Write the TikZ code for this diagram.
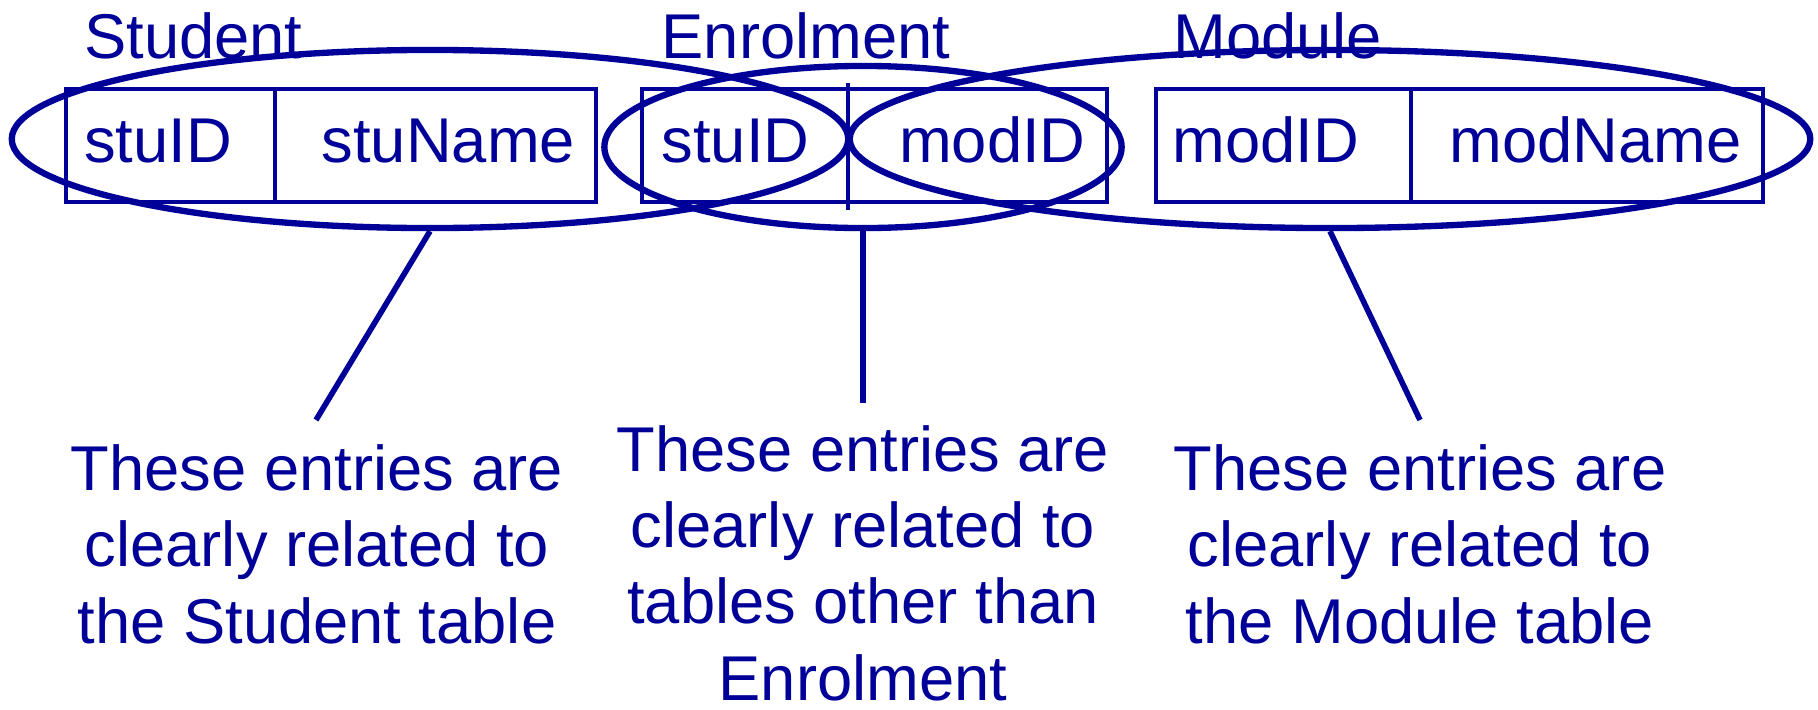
\documentclass[tikz,border=0pt]{standalone}
\usepackage{fontspec}
\setmainfont{Liberation Sans}
\usetikzlibrary{shapes.geometric}
\definecolor{navy}{RGB}{0,0,153}

\begin{document}
\begin{tikzpicture}[x=0.01cm,y=-0.01cm]
  \tikzstyle{ring}=[ellipse,draw=navy,line width=1.8pt,inner sep=0pt]
  \tikzstyle{field}=[anchor=base west,inner sep=0pt,text=navy,font=\fontsize{18}{21.7}\selectfont]
  \tikzstyle{note}=[anchor=base,align=center,inner sep=0pt,text=navy,font=\fontsize{18}{21.7}\selectfont]
  \tikzstyle{link}=[draw=navy,line width=1.6pt]
  \useasboundingbox (0,0) rectangle (1818,709);
  % tables
  \draw[navy,line width=0.9pt] (66,89) rectangle (596,202) (275,89) -- (275,202);
  \draw[navy,line width=0.9pt] (642,89) rectangle (1107,202) (848,83) -- (848,210);
  \draw[navy,line width=0.9pt] (1156,89) rectangle (1763,202) (1411,89) -- (1411,202);
  \node[field] (stuTitle) at (83.5,58) {Student};
  \node[field] (enrTitle) at (661,58) {Enrolment};
  \node[field] (modTitle) at (1173,58) {Module};
  \node[field] (stuId) at (83.5,162) {stuID};
  \node[field] (stuName) at (321,162) {stuName};
  \node[field] (enrStu) at (661,162) {stuID};
  \node[field] (enrMod) at (898.5,162) {modID};
  \node[field] (modId) at (1172,162) {modID};
  \node[field] (modName) at (1449,162) {modName};
  % groupings
  \node[ring,minimum width=8.36cm,minimum height=1.78cm] (stuRing) at (430,139) {};
  \node[ring,minimum width=5.17cm,minimum height=1.62cm] (enrRing) at (863,147) {};
  \node[ring,minimum width=9.60cm,minimum height=1.78cm] (modRing) at (1330,139) {};
  \coordinate (stuEnd) at (316,420);
  \coordinate (enrEnd) at (863,403);
  \coordinate (modEnd) at (1420,420);
  \draw[link] (stuRing.south) -- (stuEnd);
  \draw[link] (enrRing.south) -- (enrEnd);
  \draw[link] (modRing.south) -- (modEnd);
  % notes (base = last line)
  \node[note] (stuNote) at (317,643) {These entries are\\clearly related to\hspace*{.278em}\\the Student table};
  \node[note] (enrNote) at (863,700) {These entries are\\clearly related to\\tables other than\\Enrolment};
  \node[note] (modNote) at (1420,643) {These entries are\\clearly related to\hspace*{.278em}\\the Module table};
\end{tikzpicture}
\end{document}
